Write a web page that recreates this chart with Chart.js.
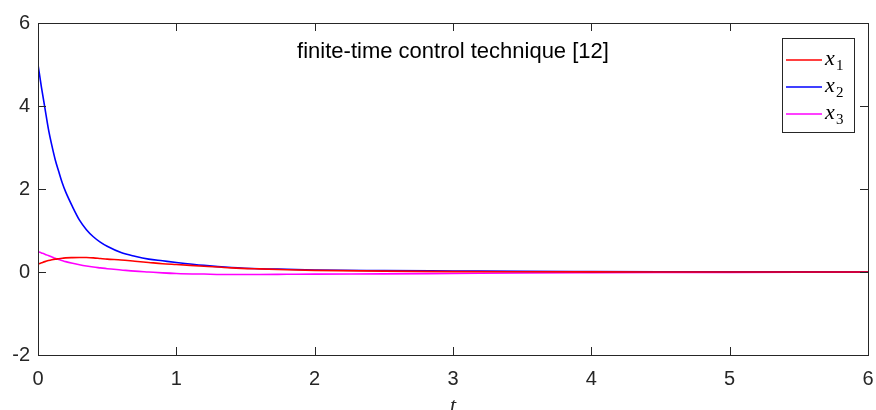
<!DOCTYPE html>
<html><head><meta charset="utf-8">
<script src="https://cdn.jsdelivr.net/npm/chart.js@4"></script>
<style>html,body{margin:0;padding:0;background:#fff;}#c{display:block;}</style>
</head><body>
<canvas id="c" width="876" height="410"></canvas>
<script>
const tValues = [0,0.025,0.05,0.075,0.1,0.125,0.15,0.175,0.2,0.25,0.3,0.35,0.4,0.45,0.5,0.6,0.7,0.8,0.9,1.0,1.2,1.4,1.6,1.8,2.0,2.5,3.0,3.5,4.0,4.5,5.0,5.5,6.0];
const x1Values = [0.19,0.22,0.25,0.275,0.295,0.31,0.32,0.33,0.34,0.347,0.35,0.348,0.34,0.325,0.31,0.29,0.26,0.23,0.20,0.18,0.14,0.10,0.075,0.055,0.04,0.02,0.01,0.005,0.002,0.001,0.0005,0.0002,0.0001];
const x2Values = [5.0,4.45,3.95,3.45,3.05,2.7,2.42,2.15,1.93,1.57,1.25,1.02,0.85,0.72,0.62,0.47,0.38,0.31,0.27,0.23,0.16,0.11,0.08,0.065,0.05,0.035,0.025,0.015,0.01,0.006,0.004,0.002,0.001];
const x3Values = [0.49,0.46,0.43,0.395,0.36,0.33,0.30,0.275,0.25,0.21,0.175,0.145,0.12,0.10,0.08,0.05,0.02,0.0,-0.02,-0.035,-0.05,-0.06,-0.06,-0.055,-0.05,-0.045,-0.035,-0.025,-0.018,-0.012,-0.008,-0.005,-0.003];
const seriesNames = ['1','2','3'];
const seriesColors = ['#ff0000','#0000ff','#ff00ff'];
const xTicks = [0,1,2,3,4,5,6];
const yTicks = [-2,0,2,4,6];
const titleText = 'finite-time control technique [12]';
const xLabel = 't';

const pts = v => tValues.map((t,i)=>({x:t,y:v[i]}));
const allSeries = [x1Values,x2Values,x3Values];
const axisColor = '#262626';

const decor = {
  id:'decor',
  afterDraw(chart){
    const ctx = chart.ctx, a = chart.chartArea;
    const xs = chart.scales.x, ys = chart.scales.y;
    ctx.save();
    ctx.strokeStyle = axisColor; ctx.lineWidth = 1;
    ctx.strokeRect(Math.round(a.left)+0.5, Math.round(a.top)+0.5, Math.round(a.right-a.left), Math.round(a.bottom-a.top));
    ctx.beginPath();
    xTicks.forEach(v=>{const px=Math.round(xs.getPixelForValue(v))+0.5;
      ctx.moveTo(px,a.bottom); ctx.lineTo(px,a.bottom-8);
      ctx.moveTo(px,a.top); ctx.lineTo(px,a.top+8);});
    yTicks.forEach(v=>{const py=Math.round(ys.getPixelForValue(v))+0.5;
      ctx.moveTo(a.left,py); ctx.lineTo(a.left+8,py);
      ctx.moveTo(a.right,py); ctx.lineTo(a.right-8,py);});
    ctx.stroke();
    // title
    ctx.fillStyle = '#000';
    ctx.font = '22px "Liberation Sans", Arial, sans-serif';
    ctx.textAlign = 'center'; ctx.textBaseline = 'alphabetic';
    ctx.fillText(titleText, (a.left+a.right)/2, 58);
    // x label
    ctx.font = 'italic 22px "Liberation Serif", "DejaVu Serif", serif';
    ctx.fillStyle = '#262626';
    ctx.fillText(xLabel, (a.left+a.right)/2, 412);
    // legend
    const bx = 782, by = 38, bw = 72, bh = 94;
    ctx.fillStyle = '#fff'; ctx.fillRect(bx,by,bw,bh);
    ctx.lineWidth = 1;
    ctx.strokeStyle = axisColor; ctx.strokeRect(bx+0.5,by+0.5,bw,bh);
    const rowY = [60, 87, 114];
    seriesNames.forEach((n,i)=>{
      ctx.strokeStyle = seriesColors[i]; ctx.lineWidth = 1.5;
      ctx.beginPath(); ctx.moveTo(786,rowY[i]); ctx.lineTo(822,rowY[i]); ctx.stroke();
      ctx.fillStyle = '#000'; ctx.textAlign='left';
      ctx.font = 'italic 22px "Liberation Serif", serif';
      ctx.fillText('x', 825, rowY[i]+5);
      ctx.font = '15px "Liberation Serif", serif';
      ctx.fillText(n, 836, rowY[i]+10);
    });
    ctx.restore();
  }
};

new Chart(document.getElementById('c'), {
  type:'line',
  data:{datasets: allSeries.map((v,i)=>({label:'x'+seriesNames[i], data:pts(v), borderColor:seriesColors[i], borderWidth:1.6, pointRadius:0, fill:false, cubicInterpolationMode:'monotone'}))},
  options:{
    responsive:false, animation:false, devicePixelRatio:1,
    layout:{padding:{top:23,right:8,left:0,bottom:0}},
    plugins:{legend:{display:false}, tooltip:{enabled:false}},
    scales:{
      x:{type:'linear', min:0, max:6,
        afterFit(s){s.height=55; s.paddingLeft=0; s.paddingRight=0;},
        afterBuildTicks(s){s.ticks = xTicks.map(v=>({value:v}));},
        grid:{display:false, drawTicks:false}, border:{display:false},
        ticks:{color:'#262626', font:{family:'"Liberation Sans", Arial, sans-serif', size:20}, padding:12, maxRotation:0, autoSkip:false}},
      y:{type:'linear', min:-2, max:6,
        afterFit(s){s.width=38; s.paddingTop=0; s.paddingBottom=0;},
        afterBuildTicks(s){s.ticks = yTicks.map(v=>({value:v}));},
        grid:{display:false, drawTicks:false}, border:{display:false},
        ticks:{color:'#262626', font:{family:'"Liberation Sans", Arial, sans-serif', size:20}, padding:8}}
    }
  },
  plugins:[decor]
});
</script>
</body></html>
